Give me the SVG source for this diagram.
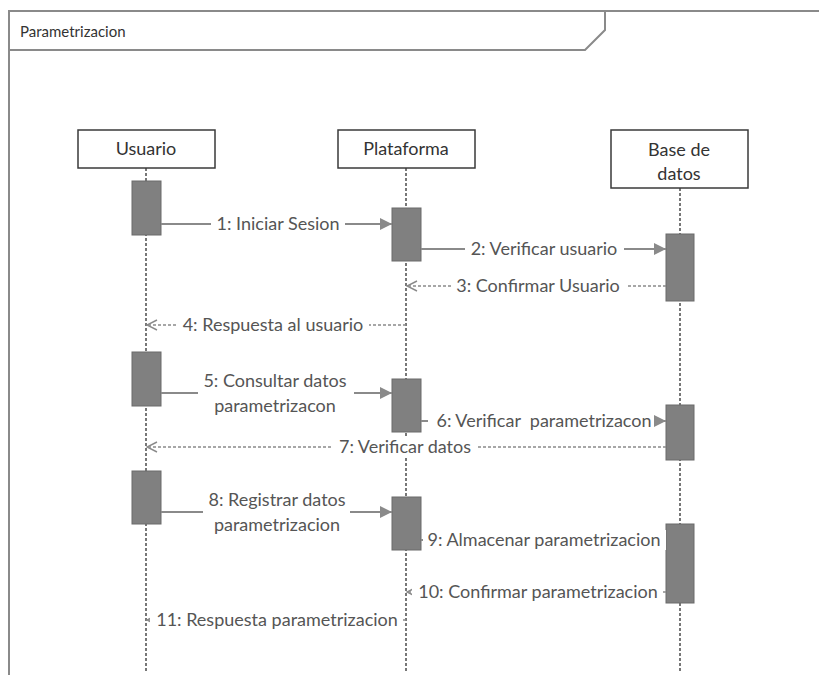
<svg xmlns="http://www.w3.org/2000/svg" width="819" height="675" viewBox="0 0 819 675">
  <style>
    .frame { fill: none; stroke: #8a8a8a; stroke-width: 2; }
    .box { fill: #fff; stroke: #3a3a3a; stroke-width: 1.5; }
    .head { font-family: Lato, "Open Sans", sans-serif; font-size: 18px; fill: #333; text-anchor: middle; }
    .life { stroke: #777; stroke-width: 2; stroke-dasharray: 3 2; fill: none; }
    .act { fill: #808080; stroke: #6a6a6a; stroke-width: 1; }
    .msg { stroke: #8a8a8a; stroke-width: 2; fill: none; }
    .ret { stroke: #8a8a8a; stroke-width: 1.6; stroke-dasharray: 3 2; fill: none; }
    .lbl { font-family: Lato, "Open Sans", sans-serif; font-size: 18px; fill: #555; text-anchor: middle; }
    .bg { fill: #fff; }
    .title { font-family: Lato, "Open Sans", sans-serif; font-size: 15px; fill: #333; }
  </style>
  <defs>
    <marker id="solid" viewBox="0 0 12 12" refX="12" refY="6" markerWidth="12" markerHeight="12" markerUnits="userSpaceOnUse" orient="auto">
      <path d="M0,0 L12,6 L0,12 Z" fill="#8a8a8a"/>
    </marker>
    <marker id="open" viewBox="0 0 12 12" refX="11" refY="6" markerWidth="12" markerHeight="12" markerUnits="userSpaceOnUse" orient="auto">
      <path d="M1,1 L11,6 L1,11" fill="none" stroke="#8a8a8a" stroke-width="1.4"/>
    </marker>
  </defs>

  <!-- interaction frame -->
  <g id="frame">
    <path class="frame" d="M9,675 V11 H819"/>
    <path class="frame" d="M9,50 H585 L605,30 V11"/>
    <text class="title" x="20" y="37">Parametrizacion</text>
  </g>

  <!-- lifelines -->
  <g id="usuario">
    <line class="life" x1="146" y1="168" x2="146" y2="672"/>
    <rect class="box" x="78" y="130" width="137" height="38"/>
    <text class="head" x="146" y="155">Usuario</text>
    <rect class="act" x="132" y="181" width="29" height="54"/>
    <rect class="act" x="132" y="352" width="29" height="54"/>
    <rect class="act" x="132" y="471" width="29" height="53"/>
  </g>
  <g id="plataforma">
    <line class="life" x1="406" y1="168" x2="406" y2="672"/>
    <rect class="box" x="338" y="130" width="137" height="38"/>
    <text class="head" x="406" y="155">Plataforma</text>
    <rect class="act" x="392" y="208" width="29" height="53"/>
    <rect class="act" x="392" y="379" width="29" height="53"/>
    <rect class="act" x="392" y="497" width="29" height="53"/>
  </g>
  <g id="base-de-datos">
    <line class="life" x1="680" y1="188" x2="680" y2="672"/>
    <rect class="box" x="611" y="130" width="137" height="58"/>
    <text class="head" x="679" y="156">Base de</text>
    <text class="head" x="679" y="180">datos</text>
    <rect class="act" x="666" y="234" width="28" height="67"/>
    <rect class="act" x="666" y="405" width="28" height="55"/>
    <rect class="act" x="666" y="524" width="28" height="79"/>
  </g>

  <!-- messages -->
  <g id="connectors">
    <line class="msg" x1="161" y1="224" x2="392" y2="224" marker-end="url(#solid)"/>
    <rect class="bg" x="211" y="214" width="134" height="20"/>
    <text class="lbl" x="278" y="230">1: Iniciar Sesion</text>

    <line class="msg" x1="421" y1="249" x2="666" y2="249" marker-end="url(#solid)"/>
    <rect class="bg" x="465" y="239" width="159" height="20"/>
    <text class="lbl" x="544" y="255">2: Verificar usuario</text>

    <line class="ret" x1="666" y1="286" x2="407" y2="286" marker-end="url(#open)"/>
    <rect class="bg" x="451" y="276" width="175" height="20"/>
    <text class="lbl" x="538" y="292">3: Confirmar Usuario</text>

    <line class="ret" x1="406" y1="325" x2="147" y2="325" marker-end="url(#open)"/>
    <rect class="bg" x="177" y="315" width="192" height="20"/>
    <text class="lbl" x="273" y="331">4: Respuesta al usuario</text>

    <line class="msg" x1="161" y1="393" x2="392" y2="393" marker-end="url(#solid)"/>
    <rect class="bg" x="198" y="369" width="156" height="48"/>
    <text class="lbl" x="275" y="387">5: Consultar datos</text>
    <text class="lbl" x="275" y="412">parametrizacon</text>

    <line class="msg" x1="421" y1="421" x2="666" y2="421" marker-end="url(#solid)"/>
    <rect class="bg" x="428" y="411" width="226" height="20"/>
    <text class="lbl" x="544" y="427" xml:space="preserve">6: Verificar  parametrizacon</text>

    <line class="ret" x1="666" y1="447" x2="147" y2="447" marker-end="url(#open)"/>
    <rect class="bg" x="332" y="437" width="146" height="20"/>
    <text class="lbl" x="405" y="453">7: Verificar datos</text>

    <line class="msg" x1="161" y1="512" x2="392" y2="512" marker-end="url(#solid)"/>
    <rect class="bg" x="203" y="488" width="147" height="48"/>
    <text class="lbl" x="277" y="506">8: Registrar datos</text>
    <text class="lbl" x="277" y="531">parametrizacion</text>

    <line class="msg" x1="421" y1="540" x2="666" y2="540" marker-end="url(#solid)"/>
    <rect class="bg" x="423" y="530" width="243" height="20"/>
    <text class="lbl" x="544" y="546">9: Almacenar parametrizacion</text>

    <line class="ret" x1="666" y1="592" x2="407" y2="592" marker-end="url(#open)"/>
    <rect class="bg" x="412" y="582" width="249" height="20"/>
    <text class="lbl" x="538" y="598">10: Confirmar parametrizacion</text>

    <line class="ret" x1="406" y1="620" x2="147" y2="620" marker-end="url(#open)"/>
    <rect class="bg" x="150" y="610" width="253" height="20"/>
    <text class="lbl" x="277" y="626">11: Respuesta parametrizacion</text>
  </g>
</svg>
